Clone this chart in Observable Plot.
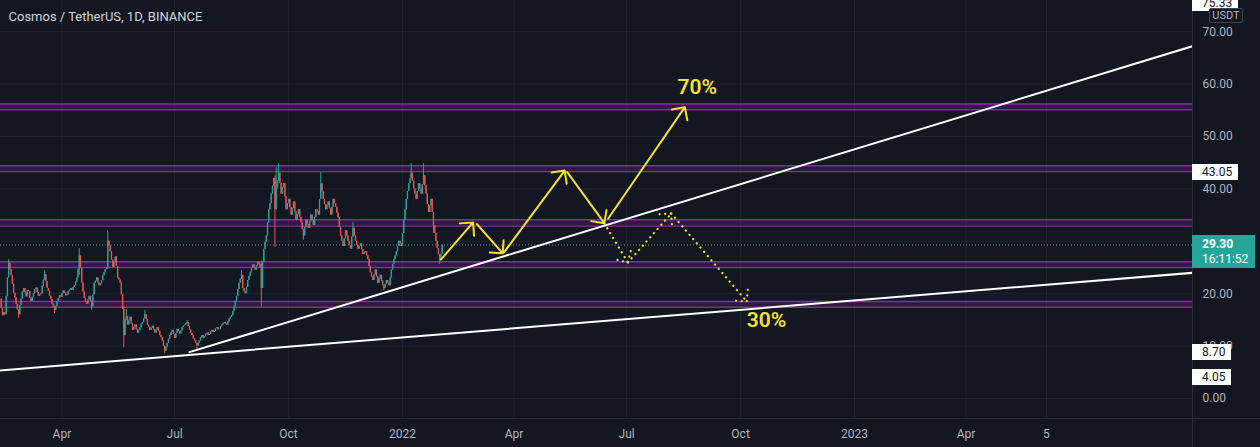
<!DOCTYPE html>
<html><head><meta charset="utf-8">
<script src="https://cdn.jsdelivr.net/npm/d3@7"></script>
<script src="https://cdn.jsdelivr.net/npm/@observablehq/plot@0.6"></script>
<style>
html,body{margin:0;padding:0;background:#131722;overflow:hidden}
#wrap{position:relative;width:1260px;height:447px;overflow:hidden;font-family:Roboto,"Open Sans",sans-serif}
.tag{position:absolute;left:1192px;background:#ffffff;color:#131722;font-size:12px;line-height:16px;height:16px;padding:0 6px 0 10px;white-space:nowrap}
.last{position:absolute;left:1192px;width:63px;height:33px;background:#26a69a;color:#ffffff;font-size:12px;line-height:15px;padding:2px 0 0 10px;box-sizing:border-box;white-space:nowrap}
.unit{position:absolute;left:1209px;top:8px;width:34px;height:15px;border:1px solid #434651;border-radius:2px;box-sizing:border-box;color:#b2b5be;font-size:11px;line-height:13px;text-align:center;background:#131722}
.sep{position:absolute;background:#2a2e39}
</style>
</head><body>
<div id="wrap"></div>
<script>
// ---------- data ----------
const titleText = "Cosmos / TetherUS, 1D, BINANCE";
const startDate = "2021-02-11";
const firstOpen = 19.0;
const closes = [
17.2,15.8,16.4,16.0,19.5,23.0,25.8,24.6,23.4,21.8,
20.1,19.2,18.0,16.9,16.0,17.8,19.0,20.3,21.0,20.2,
19.4,20.6,20.4,19.1,18.5,19.3,20.0,20.8,21.1,20.2,
19.5,19.8,20.0,21.4,22.6,23.6,22.3,21.0,20.4,19.5,
18.9,18.0,17.4,16.8,17.6,18.5,19.1,19.6,19.3,20.0,
20.5,20.1,19.6,19.8,20.4,20.7,21.0,20.6,21.2,21.5,
22.2,23.0,24.6,27.2,24.8,22.0,20.3,19.1,18.4,18.0,
18.8,19.5,18.6,17.5,19.8,22.0,22.4,23.0,22.1,21.5,
21.9,22.5,23.4,24.0,24.6,25.0,30.0,29.2,28.0,26.4,
25.0,26.0,27.0,25.2,23.0,22.6,22.0,19.8,17.0,12.0,
15.0,15.6,14.0,14.8,15.5,14.2,13.0,13.6,14.0,13.1,
12.5,13.0,13.5,14.2,14.5,15.2,16.0,15.1,14.0,13.5,
13.0,13.4,13.8,13.1,12.5,13.0,13.5,12.8,12.0,11.6,
11.0,10.0,9.0,9.8,10.5,11.3,12.0,12.6,13.0,12.2,
11.5,12.4,13.2,12.8,12.3,12.9,13.5,13.8,14.0,14.3,
14.5,13.7,13.0,12.4,12.0,11.4,11.0,10.5,10.0,10.6,
11.0,11.6,12.0,11.5,11.8,12.3,12.5,12.0,12.2,12.7,
13.0,12.6,12.8,13.3,13.5,13.1,13.2,13.7,14.0,14.3,
14.5,14.2,14.0,14.6,15.2,15.5,15.8,16.6,17.5,18.6,
19.5,20.8,22.0,22.8,23.5,21.0,20.4,20.0,21.2,22.5,
23.3,24.0,24.8,25.5,25.0,24.5,25.3,26.0,25.6,25.0,
21.0,26.0,28.5,29.8,31.0,33.5,36.0,37.2,39.0,40.5,
42.0,36.0,40.0,41.5,43.0,41.0,39.0,40.2,41.0,38.5,
36.0,37.2,38.0,36.4,35.0,36.3,37.5,35.6,34.0,35.1,
36.0,34.6,33.5,32.2,31.0,32.6,34.0,33.2,32.5,33.8,
35.0,34.0,33.0,34.6,36.0,35.6,35.0,38.0,41.0,39.4,
38.0,37.0,36.0,36.8,37.5,36.2,35.0,36.5,38.0,37.2,
36.5,35.4,34.5,32.6,31.0,30.0,29.0,30.5,32.0,31.0,
30.0,29.2,28.5,30.8,32.5,31.0,30.0,29.2,28.5,29.0,
29.5,28.4,27.5,27.8,28.0,27.2,26.5,25.2,24.0,23.2,
22.5,23.6,24.5,23.2,22.0,22.8,23.5,22.4,21.5,21.0,
21.8,22.5,22.0,21.5,23.0,24.5,25.6,26.5,27.2,28.0,
29.0,30.0,29.6,29.0,31.5,34.0,36.0,38.0,39.5,41.0,
42.0,43.0,41.5,40.0,39.0,38.0,39.5,41.0,40.0,39.0,
40.8,42.5,40.6,39.0,37.0,35.5,36.8,38.0,35.5,33.0,
31.5,30.0,28.6,27.5,26.5,27.5,29.3
];
const wickIndex = [6,14,35,43,63,73,86,99,101,116,132,150,158,194,210,221,222,224,244,258,284,309,331,341,349,354];
const wickHigh  = [26.5,null,24.4,null,28.6,null,32.0,17.5,17.0,16.8,null,14.9,null,24.4,26.2,42.5,44.0,44.8,null,43.1,33.6,null,44.8,44.8,null,null];
const wickLow   = [null,15.3,null,16.2,23.5,16.8,24.6,9.7,null,null,8.6,null,9.2,null,17.4,28.8,null,null,30.2,null,null,20.6,null,null,31.5,25.6];

const levelTop    = [56.2, 44.4, 34.1, 26.1, 18.5];
const levelBottom = [55.1, 43.3, 32.9, 25.0, 17.4];

const trendADates  = ["2021-02-10", "2023-10-02"];
const trendAPrices = [5.36, 24.0];
const trendBDates  = ["2021-07-13", "2023-10-02"];
const trendBPrices = [8.84, 67.3];

const arrowFrom      = ["2022-02-01","2022-03-02","2022-03-24","2022-05-14","2022-06-16"];
const arrowFromPrice = [26.5, 33.3, 27.9, 43.2, 34.3];
const arrowTo        = ["2022-02-27","2022-03-23","2022-05-12","2022-06-13","2022-08-17"];
const arrowToPrice   = [33.6, 27.7, 43.5, 33.45, 55.6];

const dotFrom      = ["2022-06-13","2022-07-02","2022-08-06"];
const dotFromPrice = [33.4, 25.95, 35.3];
const dotTo        = ["2022-07-02","2022-08-06","2022-10-06"];
const dotToPrice   = [25.95, 35.3, 18.5];

const noteText  = ["70%", "30%"];
const noteDate  = ["2022-08-27", "2022-10-22"];
const notePrice = [59.4, 14.9];

const lastPrice = 29.30;
const lastTime = "16:11:52";
const markerPrices = [75.33, 43.05, 8.70, 4.05];
const markerLabels = ["75.33", "43.05", "8.70", "4.05"];

const yTicks = [0, 10, 20, 30, 40, 50, 60, 70];
const xTickDates = ["2021-04-01","2021-07-01","2021-10-01","2022-01-01","2022-04-01","2022-07-01","2022-10-01","2023-01-01","2023-04-01","2023-06-05"];
const xTickLabels = ["Apr","Jul","Oct","2022","Apr","Jul","Oct","2023","Apr","5"];

// ---------- build ----------
const DAY = 864e5;
const ref = Date.UTC(2022, 0, 1);
const xDomain = [new Date(ref - 324.6 * DAY), new Date(ref + 637.9 * DAY)];
const yDomain = [-3.82, 75.95];
const UP = "#26a69a", DOWN = "#ef5350", YEL = "#f5e02f", PURPLE = "#9c27b0";

const candles = closes.map((c, i) => {
  const o = i === 0 ? firstOpen : closes[i - 1];
  const k = wickIndex.indexOf(i);
  let hi = Math.max(o, c), lo = Math.min(o, c);
  if (k >= 0) {
    if (wickHigh[k] != null) hi = Math.max(hi, wickHigh[k]);
    if (wickLow[k] != null) lo = Math.min(lo, wickLow[k]);
  }
  return {date: d3.utcDay.offset(new Date(startDate), i), open: o, close: c, high: hi, low: lo};
});
const levels = levelTop.map((t, i) => ({top: t, bottom: levelBottom[i]}));
const levelEdges = levelTop.concat(levelBottom);
const trendA = trendADates.map((d, i) => ({date: new Date(d), price: trendAPrices[i]}));
const trendB = trendBDates.map((d, i) => ({date: new Date(d), price: trendBPrices[i]}));
const arrows = arrowFrom.map((d, i) => ({x1: new Date(d), y1: arrowFromPrice[i], x2: new Date(arrowTo[i]), y2: arrowToPrice[i]}));
const dots = dotFrom.map((d, i) => ({x1: new Date(d), y1: dotFromPrice[i], x2: new Date(dotTo[i]), y2: dotToPrice[i]}));
const notes = noteText.map((t, i) => ({text: t, date: new Date(noteDate[i]), price: notePrice[i]}));
const xTicks = xTickDates.map(d => new Date(d));
const col = d => d.close >= d.open ? UP : DOWN;

const chart = Plot.plot({
  width: 1260, height: 447,
  marginLeft: 0, marginRight: 68, marginTop: 0, marginBottom: 29,
  style: {background: "#131722", color: "#b2b5be", fontFamily: "Roboto, 'Open Sans', sans-serif", fontSize: "12px"},
  x: {type: "utc", domain: xDomain},
  y: {domain: yDomain},
  marks: [
    Plot.gridY(yTicks, {stroke: "#ffffff", strokeOpacity: 0.055}),
    Plot.gridX(xTicks, {stroke: "#ffffff", strokeOpacity: 0.055}),
    Plot.rect(levels, {x1: () => xDomain[0], x2: () => xDomain[1], y1: "bottom", y2: "top", fill: PURPLE, fillOpacity: 0.2}),
    Plot.ruleY(levelEdges, {stroke: PURPLE, strokeWidth: 1.4, strokeOpacity: 0.9}),
    Plot.ruleY([lastPrice], {stroke: "#7fb3ae", strokeWidth: 1, strokeDasharray: "1,2", strokeOpacity: 0.8}),
    Plot.ruleX(candles, {x: "date", y1: "low", y2: "high", stroke: col, strokeWidth: 1}),
    Plot.ruleX(candles, {x: "date", y1: "open", y2: "close", stroke: col, strokeWidth: 1.3}),
    Plot.line(trendA, {x: "date", y: "price", stroke: "#ffffff", strokeWidth: 2, clip: true}),
    Plot.line(trendB, {x: "date", y: "price", stroke: "#ffffff", strokeWidth: 2, clip: true}),
    Plot.arrow(arrows, {x1: "x1", y1: "y1", x2: "x2", y2: "y2", stroke: YEL, strokeWidth: 2, headLength: 10, headAngle: 90}),
    Plot.arrow(dots, {x1: "x1", y1: "y1", x2: "x2", y2: "y2", stroke: YEL, strokeWidth: 2.2, strokeLinecap: "round", strokeDasharray: "0.1,5.5", headLength: 8, headAngle: 90}),
    Plot.text(notes, {x: "date", y: "price", text: "text", fill: YEL, fontSize: 21, fontWeight: 600}),
    Plot.text([titleText], {frameAnchor: "top-left", dx: 8, dy: 16, lineAnchor: "middle", textAnchor: "start", fill: "#d1d4dc", fontSize: 13}),
    Plot.axisY(yTicks, {anchor: "right", tickSize: 0, tickPadding: 10, tickFormat: d => d.toFixed(2), fill: "#b2b5be", fontSize: 12, label: null}),
    Plot.axisX(xTicks, {anchor: "bottom", tickSize: 0, tickPadding: 11, tickFormat: (d, i) => xTickLabels[i], fill: "#b2b5be", fontSize: 12, label: null})
  ]
});

const wrap = document.getElementById("wrap");
wrap.append(chart);
const ys = chart.scale("y");

function addDiv(cls, html, top, extra) {
  const el = document.createElement("div");
  el.className = cls;
  el.innerHTML = html;
  el.style.top = top + "px";
  if (extra) Object.assign(el.style, extra);
  wrap.append(el);
  return el;
}
// separators
addDiv("sep", "", 0, {left: "1192px", width: "1px", height: "447px"});
addDiv("sep", "", ys.apply(yDomain[0]), {left: "0px", width: "1260px", height: "1px"});
// price markers
markerPrices.forEach((p, i) => addDiv("tag", markerLabels[i], ys.apply(p) - 8));
addDiv("unit", "USDT", 8);
addDiv("last", "<b>" + lastPrice.toFixed(2) + "</b><br>" + lastTime, ys.apply(lastPrice) - 9);
</script>
</body></html>
